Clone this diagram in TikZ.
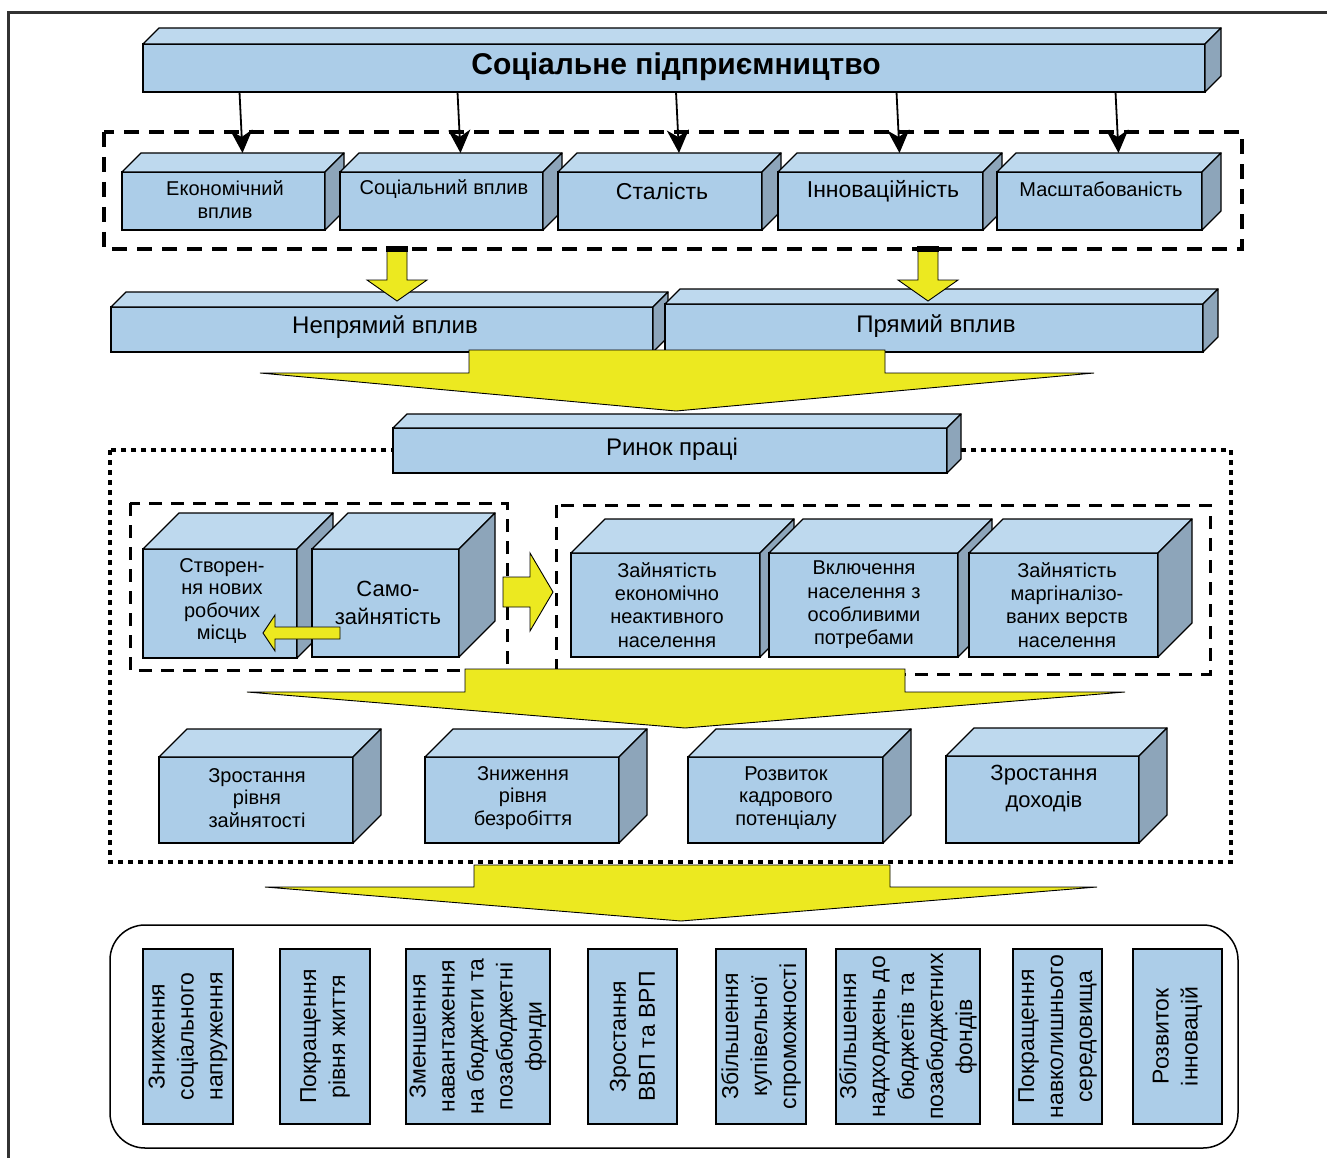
\documentclass[tikz,border=0pt]{standalone}
\usepackage{fontspec}
\setmainfont{Liberation Sans}
\usetikzlibrary{arrows.meta,calc}

\definecolor{frontblue}{RGB}{172,205,232}
\definecolor{topblue}{RGB}{190,217,238}
\definecolor{sideblue}{RGB}{141,165,186}
\definecolor{blockyellow}{RGB}{236,233,32}
\definecolor{framegray}{RGB}{50,50,50}

\tikzset{
  front/.style={draw, line width=1.3pt, fill=frontblue, rectangle,
                inner sep=0pt, outer sep=0pt},
  topface/.style={draw, line width=1.3pt, fill=topblue, line join=round},
  sideface/.style={draw, line width=1.3pt, fill=sideblue, line join=round},
  lbl/.style={align=center, inner sep=0pt},
  resbox/.style={draw, line width=1.2pt, fill=frontblue, rotate=90,
                 align=center, inner sep=0pt, outer sep=0pt,
                 minimum width=175pt, font=\fontsize{23}{29}\selectfont},
  blockarrow/.style={draw, line width=0.9pt, fill=blockyellow},
  thinarrow/.style={line width=1.8pt,
                    -{Stealth[length=23pt,width=22pt,inset=7pt]}},
  groupdash/.style={line width=4.5pt, dash pattern=on 15pt off 10pt},
  subdash/.style={line width=3pt, dash pattern=on 13pt off 9pt},
  dotframe/.style={line width=4pt, dash pattern=on 5pt off 5pt}
}

% 3D box: name, left, top, right, bottom, depth
\newcommand{\cube}[6]{%
  \node[front, anchor=north west, minimum width={#4-#2},
        minimum height={#5-#3}] (#1) at (#2,#3) {};
  \draw[topface] (#1.north west) -- ++(#6,-#6) -- ++(#4-#2,0)
                 -- (#1.north east) -- cycle;
  \draw[sideface] (#1.north east) -- ++(#6,-#6) -- ++(0,#5-#3)
                  -- (#1.south east) -- cycle;
  \coordinate (#1-top) at ($(#1.north)+(#6,-#6)$);
}

\begin{document}
\begin{tikzpicture}[x=1pt, y=-1pt]
\useasboundingbox (0,0) rectangle (1327,1158);
\fill[white] (0,0) rectangle (1327,1158);
\draw[line width=3pt, framegray] (8,1165) -- (8,13) -- (1335,13);

% --- Top level ---
\cube{title}{143}{44}{1205}{92}{16}
\node[lbl, font=\fontsize{30}{34}\selectfont\bfseries] (title-t) at (676,67)
  {Соціальне підприємництво};

% --- Features ---
\draw[groupdash] (104,132) rectangle (1242,249);
\cube{econ}{122}{172}{325}{230}{19}
\cube{soc}{340}{172}{543}{230}{19}
\cube{stal}{558}{172}{762}{230}{19}
\cube{innov}{778}{172}{983}{230}{19}
\cube{scale}{997}{172}{1202}{230}{19}
\node[lbl, font=\fontsize{20}{23}\selectfont] (econ-t) at (225,199.5) {Економічний\\вплив};
\node[lbl, font=\fontsize{20}{23}\selectfont] (soc-t) at (444,189) {Соціальний вплив};
\node[lbl, font=\fontsize{23}{26}\selectfont] (stal-t) at (662,191) {Сталість};
\node[lbl, font=\fontsize{23}{26}\selectfont] (innov-t) at (883,191) {Інноваційність};
\node[lbl, font=\fontsize{20}{23}\selectfont] (scale-t) at (1101,189) {Масштабованість};

\foreach \b in {econ,soc,stal,innov,scale}
  \draw[thinarrow] ($(title.south -| \b-top)+(-3,0)$) -- (\b-top);

% --- Impact ---
\cube{nepr}{111}{307}{653}{352}{15}
\cube{pryam}{665}{304}{1203}{352}{15}
\node[lbl, font=\fontsize{24}{28}\selectfont] (nepr-t) at (385,327) {Непрямий вплив};
\node[lbl, font=\fontsize{24}{28}\selectfont] (pryam-t) at (936,326) {Прямий вплив};

\foreach \x in {397,928} {
  \draw[blockarrow] (\x-10,247) -- (\x+10,247) -- (\x+10,280) -- (\x+30,280)
    -- (\x,301) -- (\x-30,280) -- (\x-10,280) -- cycle;
  \fill (\x-11,246) rectangle (\x+11,252);
}

\draw[blockarrow] (469,350) -- (885,350) -- (885,373) -- (1094,373)
  -- (676,411) -- (260,373) -- (469,373) -- cycle;

% --- Labour market ---
\draw[dotframe] (110,450) rectangle (1231,862);
\cube{rynok}{393}{428}{947}{473}{14}
\node[lbl, font=\fontsize{24}{28}\selectfont] (rynok-t) at (672,449) {Ринок праці};

\draw[subdash] (130,503) rectangle (507,670);
\draw[subdash] (556,505) rectangle (1210,674);

\cube{stvor}{143}{549}{297}{658}{36}
\cube{samo}{312}{549}{459}{657}{36}
\node[lbl, font=\fontsize{20}{22.3}\selectfont] (stvor-t) at (222,601)
  {Створен-\\ня нових\\робочих\\місць};
\node[lbl, font=\fontsize{22}{28}\selectfont] (samo-t) at (388,603) {Само-\\зайнятість};
\draw[blockarrow] (340,627) -- (275,627) -- (275,615) -- (263,633)
  -- (275,651) -- (275,639) -- (340,639) -- cycle;

\draw[blockarrow] (503,577) -- (530,577) -- (530,553) -- (553,592)
  -- (530,631) -- (530,607) -- (503,607) -- cycle;

\cube{zain}{571}{553}{760}{657}{34}
\cube{vkl}{769}{553}{958}{657}{34}
\cube{marg}{969}{553}{1158}{657}{34}
\begin{scope}
  \clip (560,540) rectangle (1200,647);
  \node[lbl, font=\fontsize{20}{23.3}\selectfont] (zain-t) at (667,605)
    {Зайнятість\\економічно\\неактивного\\населення};
  \node[lbl, font=\fontsize{20}{23.3}\selectfont] (vkl-t) at (864,605)
    {Включення\\населення з\\особливими\\потребами};
  \node[lbl, font=\fontsize{20}{23.3}\selectfont] (marg-t) at (1067,605)
    {Зайнятість\\маргіналізо-\\ваних верств\\населення};
\end{scope}

\draw[blockarrow] (465,669) -- (905,669) -- (905,692) -- (1125,692)
  -- (685,728) -- (247,692) -- (465,692) -- cycle;

\cube{zrost}{159}{757}{353}{843}{28}
\cube{znyzh}{425}{757}{619}{843}{28}
\cube{rozv}{688}{757}{883}{843}{28}
\cube{doh}{946}{756}{1139}{843}{28}
\node[lbl, font=\fontsize{20}{22.5}\selectfont] (zrost-t) at (257,798) {Зростання\\рівня\\зайнятості};
\node[lbl, font=\fontsize{20}{22.5}\selectfont] (znyzh-t) at (523,798) {Зниження\\рівня\\безробіття};
\node[lbl, font=\fontsize{20}{22.5}\selectfont] (rozv-t) at (786,798) {Розвиток\\кадрового\\потенціалу};
\node[lbl, font=\fontsize{22}{27}\selectfont] (doh-t) at (1044,789) {Зростання\\доходів};

\draw[blockarrow] (474,865) -- (890,865) -- (890,887) -- (1097,887)
  -- (681,921) -- (265,887) -- (474,887) -- cycle;

% --- Results ---
\draw[line width=1.5pt, rounded corners=35pt] (110,925) rectangle (1238,1148);
\node[resbox, minimum height=90pt] (res1) at (188,1036.5) {Зниження\\соціального\\напруження};
\node[resbox, minimum height=90pt] (res2) at (325,1036.5) {Покращення\\рівня життя};
\node[resbox, minimum height=144pt] (res3) at (478,1036.5)
  {Зменшення\\навантаження\\на бюджети та\\позабюджетні\\фонди};
\node[resbox, minimum height=89pt] (res4) at (632.5,1036.5) {Зростання\\ВВП та ВРП};
\node[resbox, minimum height=90pt] (res5) at (761,1036.5) {Збільшення\\купівельної\\спроможності};
\node[resbox, minimum height=144pt] (res6) at (908,1036.5)
  {Збільшення\\надходжень до\\бюджетів та\\позабюджетних\\фондів};
\node[resbox, minimum height=89pt] (res7) at (1057.5,1036.5) {Покращення\\навколишнього\\середовища};
\node[resbox, minimum height=89pt] (res8) at (1177.5,1036.5) {Розвиток\\інновацій};

\end{tikzpicture}
\end{document}
